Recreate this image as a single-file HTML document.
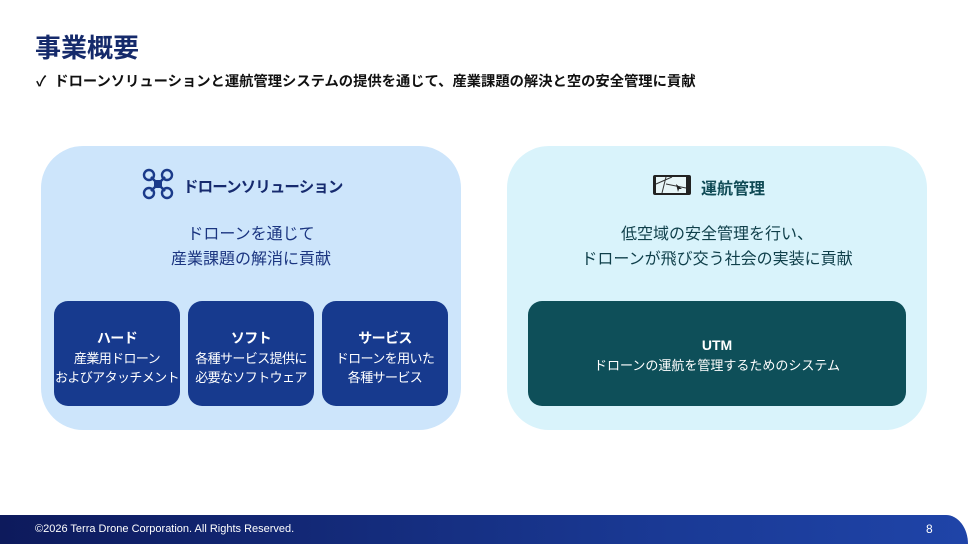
<!DOCTYPE html>
<html><head><meta charset="utf-8"><style>
*{margin:0;padding:0;box-sizing:border-box}
body{width:968px;height:544px;background:#fff;position:relative;overflow:hidden;font-family:"Liberation Sans","Noto Sans CJK JP",sans-serif}
.a{position:absolute}
.t{color:#152a6b;font-weight:bold}
.panel{position:absolute;top:146px;height:284px;width:420px;border-radius:42px}
.box{position:absolute;top:301px;height:105px;background:#173a8e;border-radius:14px;color:#fff;text-align:center;font-size:13px;line-height:19px;padding-top:28px;letter-spacing:-0.6px;white-space:nowrap}
.box b{display:block;font-size:14px;margin-bottom:1px}
.c{position:absolute;text-align:center;font-size:16px;line-height:25px}
</style></head><body>
<div class="a t" style="left:35px;top:28px;font-size:26px;">事業概要</div>
<div class="a t" style="left:36px;top:70px;font-size:14.3px;color:#111">✓&nbsp; ドローンソリューションと運航管理システムの提供を通じて、産業課題の解決と空の安全管理に貢献</div>

<div class="panel" style="left:41px;background:#cde5fb"></div>
<div class="panel" style="left:507px;background:#d9f3fb"></div>

<svg class="a" style="left:142px;top:168px" width="32" height="32" viewBox="0 0 32 32">
<g stroke="#1a3a8a" stroke-width="2.4" fill="none"><circle cx="7" cy="7" r="5"/><circle cx="25" cy="7" r="5"/><circle cx="7" cy="25" r="5"/><circle cx="25" cy="25" r="5"/><path d="M9 9L23 23M23 9L9 23"/></g><rect x="12" y="12" width="8" height="8" fill="#1a3a8a"/></svg>
<div class="a t" style="left:183px;top:175px;font-size:15.5px;letter-spacing:-0.9px;color:#162a6e">ドローンソリューション</div>
<div class="c" style="left:41px;width:420px;top:222px;color:#1b3580">ドローンを通じて<br>産業課題の解消に貢献</div>
<div class="box" style="left:54px;width:126px"><b>ハード</b>産業用ドローン<br>およびアタッチメント</div>
<div class="box" style="left:188px;width:126px"><b>ソフト</b>各種サービス提供に<br>必要なソフトウェア</div>
<div class="box" style="left:322px;width:126px"><b>サービス</b>ドローンを用いた<br>各種サービス</div>

<svg class="a" style="left:652px;top:174px" width="40" height="22" viewBox="0 0 40 22">
<rect x="1" y="1" width="38" height="20" rx="2" fill="#222"/><rect x="4" y="3" width="30" height="16" fill="#e8f6f8"/>
<path d="M4 10L20 3M10 19L14 3M14 10L34 14" stroke="#333" stroke-width="1"/><path d="M24 10l6 5-3 0-1 3z" fill="#222"/></svg>
<div class="a t" style="left:701px;top:175px;font-size:16px;color:#0f4a55">運航管理</div>
<div class="c" style="left:507px;width:420px;top:222px;color:#0f3f4a">低空域の安全管理を行い、<br>ドローンが飛び交う社会の実装に貢献</div>
<div class="box" style="left:528px;width:378px;background:#0e4f59;padding-top:35px;letter-spacing:0"><b>UTM</b>ドローンの運航を管理するためのシステム</div>

<div class="a" style="left:0;top:515px;width:968px;height:29px;background:linear-gradient(90deg,#0d1a5c,#1a3a96 70%,#1f44a8);border-top-right-radius:22px 29px"></div>
<div class="a" style="left:35px;top:523px;font-size:11px;color:#fff">©2026 Terra Drone Corporation. All Rights Reserved.</div>
<div class="a" style="left:926px;top:522px;font-size:12px;color:#fff">8</div>
</body></html>
